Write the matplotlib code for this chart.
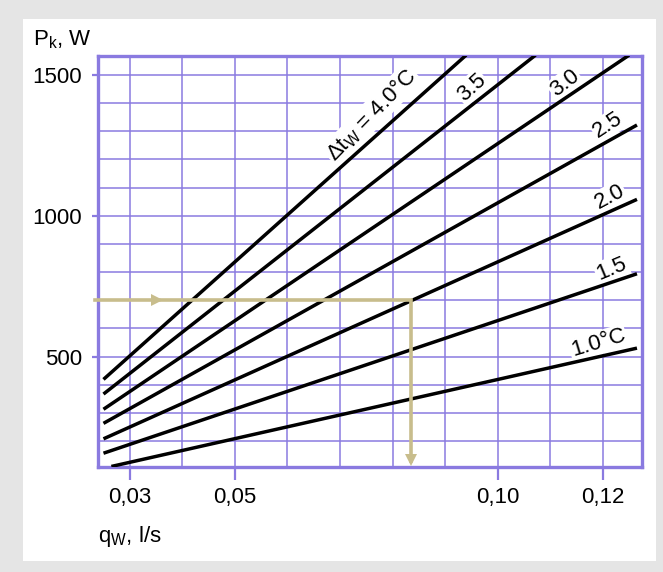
import numpy as np
import matplotlib
matplotlib.use("Agg")
import matplotlib.pyplot as plt
from matplotlib.patches import Rectangle

plt.rcParams["font.family"] = ["Liberation Sans", "DejaVu Sans"]
plt.rcParams["mathtext.fontset"] = "custom"
plt.rcParams["mathtext.rm"] = "Liberation Sans"
plt.rcParams["mathtext.it"] = "Liberation Sans:italic"

# temperature-difference lines: start / end points (q in l/s, P in W)
dt_labels = ["Δt$_\\mathrm{W}$ = 4.0°C", "3.5", "3.0", "2.5", "2.0", "1.5", "1.0°C"]
q_start = [0.0250, 0.0250, 0.0250, 0.0250, 0.0250, 0.0250, 0.0265]
p_start = [419, 367, 313, 263, 208, 157, 110]
q_end = [0.0940, 0.1072, 0.1250, 0.1265, 0.1265, 0.1265, 0.1265]
p_end = [1570, 1570, 1570, 1322, 1058, 794, 530]

# label anchors along each line
label_q = [0.0760, 0.0950, 0.1128, 0.1210, 0.1213, 0.1217, 0.1191]
label_p = [1358, 1456, 1470, 1322, 1066, 811, 548]

# worked example: read P = 700 W across to the 2.0 line, then down to q
example_p = 700
example_q = 0.0836

x_ticks = [0.03, 0.05, 0.10, 0.12]
x_ticklabels = ["0,03", "0,05", "0,10", "0,12"]
y_ticks = [500, 1000, 1500]

GRID = "#8a7ae0"
ARROW = "#c8bd8c"

fig = plt.figure(figsize=(6.63, 5.72), dpi=100, facecolor="#e5e5e5")
fig.patches.append(Rectangle((23.3 / 663, 1 - 560.7 / 572), (656 - 23.3) / 663,
                             (560.7 - 19) / 572, transform=fig.transFigure,
                             facecolor="white", edgecolor="none", zorder=-10))

ax = fig.add_axes([97.7 / 663, 1 - 467.3 / 572, 544 / 663, 411.6 / 572])
ax.set_xlim(0.0239, 0.1274)
ax.set_ylim(107, 1568)

ax.set_xticks(x_ticks)
ax.set_xticklabels(x_ticklabels)
ax.set_yticks(y_ticks)
ax.set_xticks(np.arange(0.03, 0.1201, 0.01), minor=True)
ax.set_yticks(np.arange(200, 1501, 100), minor=True)
ax.grid(True, which="both", color=GRID, lw=1.1)
ax.set_axisbelow(True)
ax.tick_params(which="minor", length=0)
ax.tick_params(axis="x", which="major", length=9, width=1.6, color=GRID,
               labelsize=16, pad=5)
ax.tick_params(axis="y", which="major", length=4.5, width=1.6, color=GRID,
               labelsize=16, pad=7)
for s in ax.spines.values():
    s.set_color(GRID)
    s.set_linewidth(2.4)

for i in range(len(dt_labels)):
    ax.plot([q_start[i], q_end[i]], [p_start[i], p_end[i]], color="black",
            lw=2.5, solid_capstyle="butt", zorder=4)

# rotate each label to the on-screen slope of its line
fig.canvas.draw()
for i, lab in enumerate(dt_labels):
    (x0, y0), (x1, y1) = ax.transData.transform(
        [(q_start[i], p_start[i]), (q_end[i], p_end[i])])
    ang = np.degrees(np.arctan2(y1 - y0, x1 - x0)) + 4
    ax.text(label_q[i], label_p[i], lab, fontsize=16, rotation=ang,
            rotation_mode="anchor", ha="center", va="center", zorder=3,
            bbox=dict(facecolor="white", edgecolor="none", pad=1.0))

# example reading path with arrow heads
ax.plot([0.02334, example_q, example_q], [example_p, example_p, 130],
        color=ARROW, lw=2.6, clip_on=False, zorder=5, solid_joinstyle="miter")
ax.plot(0.0351, example_p, marker=">", ms=9, color=ARROW, mew=0, zorder=5)
ax.plot(example_q, 134, marker="v", ms=9, color=ARROW, mew=0, zorder=5)

fig.text(33 / 663, 1 - 45 / 572, "P$_\\mathrm{k}$, W", fontsize=16,
         va="baseline", ha="left")
fig.text(98 / 663, 1 - 541.7 / 572, "q$_\\mathrm{W}$, l/s", fontsize=16,
         va="baseline", ha="left")

fig.savefig("out.png", dpi=100, facecolor=fig.get_facecolor())
